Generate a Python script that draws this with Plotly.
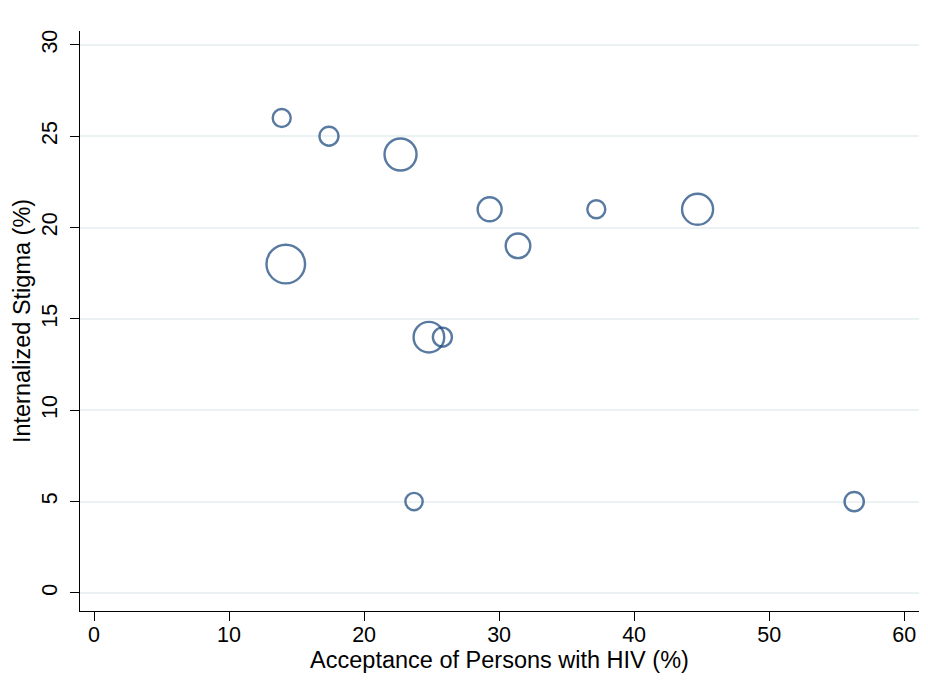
import plotly.graph_objects as go

acceptance = [13.9, 17.4, 22.7, 29.3, 37.2, 44.7, 31.4, 14.2, 24.8, 25.8, 23.7, 56.3]
stigma = [26, 25, 24, 21, 21, 21, 19, 18, 14, 14, 5, 5]
weights = [324, 361, 1024, 576, 324, 961, 605, 1490, 936, 361, 300, 372]

x_ticks = [0, 10, 20, 30, 40, 50, 60]
y_ticks = [0, 5, 10, 15, 20, 25, 30]

navy = "#12427a"
grid = "#eaf2f3"
font_family = "Liberation Sans, Arial, sans-serif"

fig = go.Figure(
    go.Scatter(
        x=acceptance,
        y=stigma,
        mode="markers",
        marker=dict(
            size=weights,
            sizemode="area",
            sizeref=2,
            color="rgba(0,0,0,0)",
            line=dict(color=navy, width=2.4),
        ),
        hoverinfo="x+y",
    )
)

fig.update_layout(
    width=928,
    height=695,
    paper_bgcolor="white",
    plot_bgcolor="white",
    margin=dict(l=72, r=17, t=23, b=92),
    showlegend=False,
    font=dict(family=font_family, size=21.5, color="black"),
    xaxis=dict(
        range=[-1.04, 61.1],
        tickvals=x_ticks,
        ticks="outside",
        ticklen=9,
        tickwidth=1,
        tickcolor="black",
        showline=True,
        linecolor="black",
        linewidth=1,
        showgrid=False,
        zeroline=False,
        automargin=False,
        ticklabelstandoff=-5,
        title=dict(text="Acceptance of Persons with HIV (%)", standoff=0, font=dict(size=23.5)),
        tickfont=dict(size=21.5),
    ),
    yaxis=dict(
        range=[-0.99, 30.76],
        tickvals=y_ticks,
        ticks="outside",
        ticklen=9,
        tickwidth=1,
        tickcolor="black",
        showline=True,
        linecolor="black",
        linewidth=1,
        showgrid=True,
        gridcolor=grid,
        gridwidth=1.5,
        zeroline=False,
        automargin=False,
        tickangle=-90,
        ticklabelstandoff=4,
        title=dict(text="Internalized Stigma (%)", standoff=1, font=dict(size=23.5)),
        tickfont=dict(size=21.5),
    ),
)

fig.write_html("out.html")
